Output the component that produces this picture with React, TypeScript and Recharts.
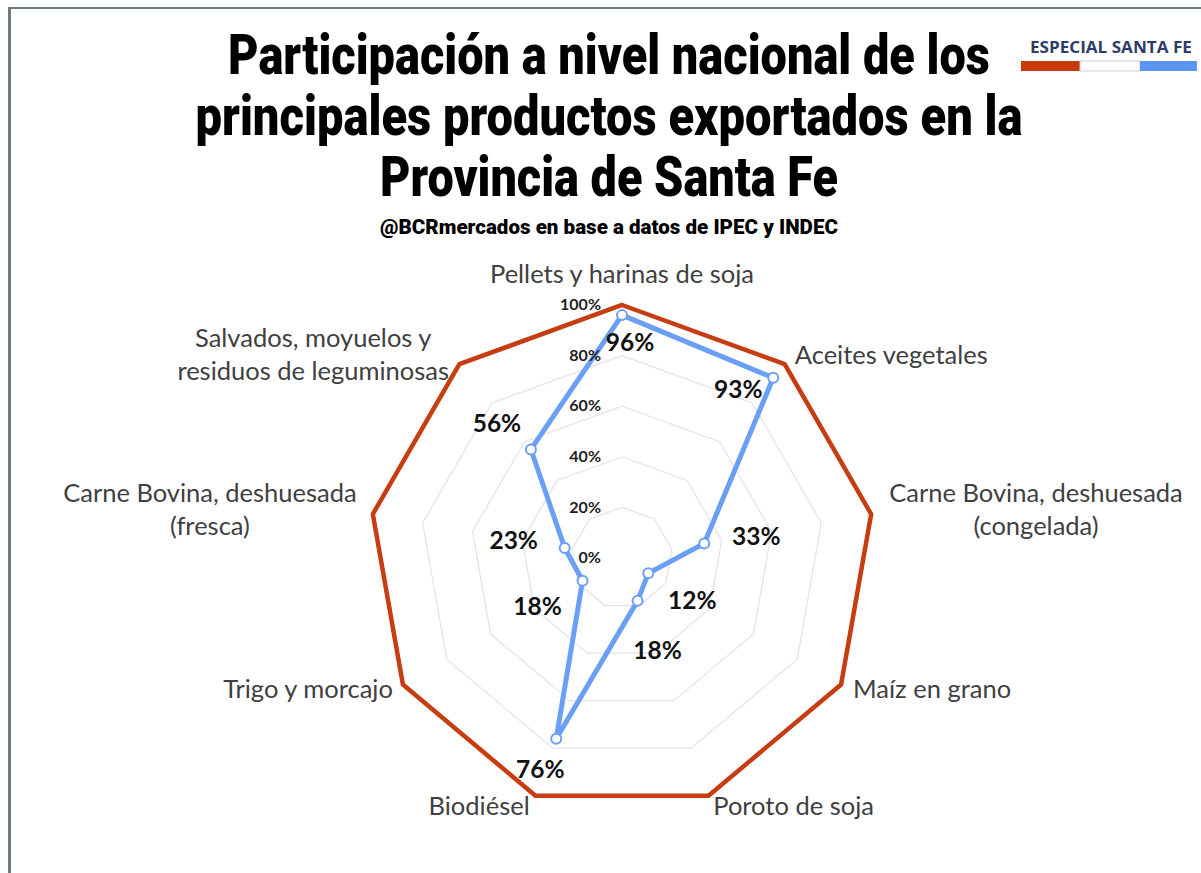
import React, { useLayoutEffect, useRef, useState } from 'react';
import {
  RadarChart,
  Radar,
  PolarGrid,
  PolarAngleAxis,
  PolarRadiusAxis,
} from 'recharts';

const categories = [
  'Pellets y harinas de soja',
  'Aceites vegetales',
  'Carne Bovina, deshuesada (congelada)',
  'Maíz en grano',
  'Poroto de soja',
  'Biodiésel',
  'Trigo y morcajo',
  'Carne Bovina, deshuesada (fresca)',
  'Salvados, moyuelos y residuos de leguminosas',
];

const categoryLines = [
  ['Pellets y harinas de soja'],
  ['Aceites vegetales'],
  ['Carne Bovina, deshuesada', '(congelada)'],
  ['Maíz en grano'],
  ['Poroto de soja'],
  ['Biodiésel'],
  ['Trigo y morcajo'],
  ['Carne Bovina, deshuesada', '(fresca)'],
  ['Salvados, moyuelos y', 'residuos de leguminosas'],
];

const shareValues = [96, 93, 33, 12, 18, 76, 18, 23, 56];
const totalValues = [100, 100, 100, 100, 100, 100, 100, 100, 100];
const radiusTicks = [0, 20, 40, 60, 80, 100];

const titleLines = [
  'Participación a nivel nacional de los',
  'principales productos exportados en la',
  'Provincia de Santa Fe',
];
const subtitle = '@BCRmercados en base a datos de IPEC y INDEC';

const data = categories.map((name, i) => ({
  name,
  share: shareValues[i],
  total: totalValues[i],
}));

const RED = '#c63d12';
const BLUE = '#6a9ff5';
const TITLE_FONT = "Roboto, 'DejaVu Sans Condensed', sans-serif";
const LABEL_FONT = "Lato, 'Open Sans', sans-serif";

// title layout: baseline y and rendered width of each line
const titleLayout = [
  { y: 74, w: 762 },
  { y: 135, w: 827 },
  { y: 196, w: 458 },
];

// placement of category labels relative to the tick point
const tickLayout = [
  { dx: 0, dy: -20, anchor: 'middle' },
  { dx: 5, dy: 0, anchor: 'start' },
  { dx: 157, dy: 0, anchor: 'middle' },
  { dx: 5, dy: 3, anchor: 'start' },
  { dx: 2, dy: 6, anchor: 'start' },
  { dx: -3, dy: 6, anchor: 'end' },
  { dx: -3, dy: 3, anchor: 'end' },
  { dx: -155, dy: 0, anchor: 'middle' },
  { dx: -141, dy: -1, anchor: 'middle' },
];

// placement of value labels relative to each point
const valueLabelOffset = [
  [8, 30], [-35, 14], [52, -5], [44, 30], [20, 52],
  [-16, 33], [-45, 28], [-51, -5], [-34, -24],
];

// squeezes a centred (or left) text horizontally to a given width
const FitText = ({ x, y, width, anchor = 'middle', children, ...rest }: any) => {
  const ref = useRef<SVGTextElement>(null);
  const [sx, setSx] = useState(1);
  useLayoutEffect(() => {
    if (ref.current) {
      const w = ref.current.getComputedTextLength();
      if (w > 0) setSx(width / w);
    }
  }, [width]);
  return (
    <g transform={`translate(${x} 0) scale(${sx} 1) translate(${-x} 0)`}>
      <text ref={ref} x={x} y={y} textAnchor={anchor} {...rest}>
        {children}
      </text>
    </g>
  );
};

const AngleTick = (props: any) => {
  const { x, y, payload } = props;
  const i = payload.index ?? categories.indexOf(payload.value);
  const lay = tickLayout[i] || { dx: 0, dy: 0, anchor: 'middle' };
  const lines = categoryLines[i] || [payload.value];
  const lh = 33;
  const startY = y + lay.dy - ((lines.length - 1) * lh) / 2;
  return (
    <text
      x={x + lay.dx}
      y={startY}
      textAnchor={lay.anchor}
      fontFamily={LABEL_FONT}
      fontSize={25.5}
      fill="#404040"
      dominantBaseline="middle"
    >
      {lines.map((l, k) => (
        <tspan key={k} x={x + lay.dx} y={startY + k * lh}>
          {l}
        </tspan>
      ))}
    </text>
  );
};

const RadiusTick = (props: any) => {
  const { x, y, payload } = props;
  return (
    <text
      x={x - 21}
      y={y + 1}
      textAnchor="end"
      dominantBaseline="middle"
      fontFamily={LABEL_FONT}
      fontWeight={700}
      fontSize={16}
      fill="#222"
    >
      {`${payload.value}%`}
    </text>
  );
};

const ShareDot = (props: any) => {
  const { cx, cy, index } = props;
  const [dx, dy] = valueLabelOffset[index] || [0, 0];
  return (
    <g key={`dot-${index}`}>
      <circle cx={cx} cy={cy} r={5} fill="#fff" stroke={BLUE} strokeWidth={2} />
      <text
        x={cx + dx}
        y={cy + dy}
        textAnchor="middle"
        dominantBaseline="middle"
        fontFamily={LABEL_FONT}
        fontWeight={700}
        fontSize={24.5}
        fill="#111"
      >
        {`${shareValues[index]}%`}
      </text>
    </g>
  );
};

export default function App() {
  return (
    <div
      style={{
        position: 'absolute',
        left: 0,
        top: 0,
        width: 1201,
        height: 873,
        background: '#fff',
        overflow: 'hidden',
      }}
    >
      <div style={{ position: 'absolute', left: 8, top: 7, width: 1193, height: 2, background: '#6b7d72' }} />
      <div style={{ position: 'absolute', left: 8, top: 7, width: 3, height: 866, background: '#6b7d72' }} />

      <svg width={1201} height={260} style={{ position: 'absolute', left: 0, top: 0 }}>
        {titleLines.map((t, i) => (
          <FitText
            key={i}
            x={609}
            y={titleLayout[i].y}
            width={titleLayout[i].w}
            fontFamily={TITLE_FONT}
            fontWeight={900}
            fontSize={55}
            fill="#000"
          >
            {t}
          </FitText>
        ))}
        <FitText
          x={609}
          y={234}
          width={458}
          fontFamily={TITLE_FONT}
          fontWeight={900}
          fontSize={20}
          fill="#000"
        >
          {subtitle}
        </FitText>
        <FitText
          x={1030}
          y={53}
          width={162}
          anchor="start"
          fontFamily="'Open Sans', sans-serif"
          fontWeight={700}
          fontSize={16}
          fill="#2c3d6b"
        >
          ESPECIAL SANTA FE
        </FitText>
        <rect x={1021} y={61} width={59} height={10} fill="#c73a0c" />
        <rect x={1080} y={61} width={60} height={10} fill="#fff" stroke="#d0d0d0" strokeWidth={1} />
        <rect x={1140} y={61} width={57} height={10} fill="#5b95f2" />
      </svg>

      <div style={{ position: 'absolute', left: 0, top: 0 }}>
        <RadarChart
          width={1201}
          height={873}
          data={data}
          cx={622}
          cy={558}
          outerRadius={253}
          startAngle={90}
          endAngle={-270}
        >
          <PolarGrid gridType="polygon" radialLines={false} stroke="#e3e3e3" strokeWidth={1.2} />
          <PolarAngleAxis dataKey="name" tick={<AngleTick />} tickLine={false} axisLine={false} />
          <PolarRadiusAxis
            angle={90}
            domain={[0, 100]}
            ticks={radiusTicks}
            tick={<RadiusTick />}
            axisLine={false}
            tickLine={false}
          />
          <Radar
            dataKey="total"
            stroke={RED}
            strokeWidth={4.5}
            fill="none"
            fillOpacity={0}
            dot={false}
            isAnimationActive={false}
          />
          <Radar
            dataKey="share"
            stroke={BLUE}
            strokeWidth={5}
            fill="none"
            fillOpacity={0}
            dot={<ShareDot />}
            isAnimationActive={false}
          />
        </RadarChart>
      </div>
    </div>
  );
}
